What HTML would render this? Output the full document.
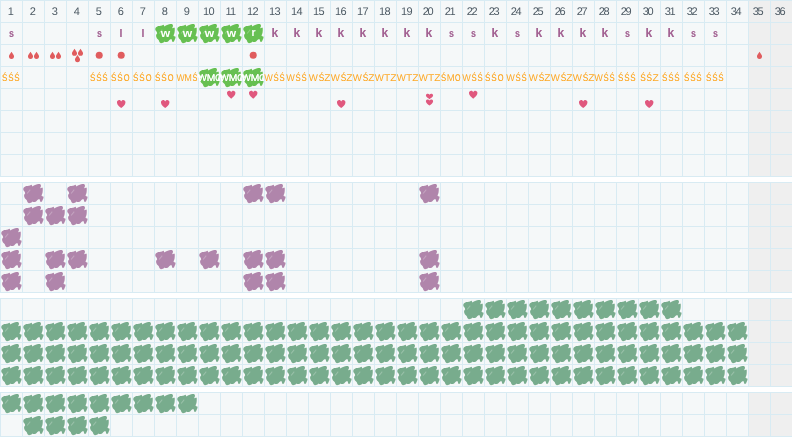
<!DOCTYPE html>
<html lang="pl">
<head>
<meta charset="utf-8">
<title>Karta cyklu</title>
<style>
html,body{margin:0;padding:0;background:#fff}
body{width:792px;height:437px;overflow:hidden;position:relative;font-family:"Liberation Sans",sans-serif}
table{border-collapse:separate;border-spacing:0;table-layout:fixed;width:792px;margin:0 0 5px 0;border-bottom:1px solid #d8ebf3}
td{width:21px;height:21px;padding:0;border-left:1px solid #d8ebf3;border-top:1px solid #d8ebf3;background:#f5f8f9;position:relative;overflow:visible;font-size:0;line-height:0}
td.x{background:#efefef}
.n{position:absolute;left:-2px;top:0;width:21px;height:21px;line-height:20px;text-align:center;font-size:11px;letter-spacing:-.7px;color:#4d5a64;white-space:nowrap;transform:rotate(.03deg)}
.m{position:absolute;left:0;top:0;width:21px;height:21px;line-height:21px;text-align:center;font-size:10.5px;font-weight:bold;color:#a36293;text-shadow:0 0 0 rgba(163,98,147,.35)}
.m.w{color:#fff;text-shadow:none}
.c{position:absolute;left:-10px;top:0;width:41px;height:21px;line-height:21px;text-align:center;font-size:9.8px;color:#fda826;white-space:nowrap;transform-origin:50% 14px}
.c i{display:inline-block;font-style:normal;transform:scaleX(.8);margin:0 -.33px}
.c u{display:inline-block;text-decoration:none;transform:scaleX(.74);margin:0 -.95px}
.c b{display:inline-block;font-weight:normal;transform:scaleX(.94);margin:0 -.27px}
.c i,.c u{text-shadow:0 0 0 rgba(253,168,38,.6)}
.c.w,.c.w u{color:#fff;text-shadow:0 0 0 #fff}
.b{position:absolute;left:-1px;top:-1px;width:22px;height:22px;clip-path:polygon(1.24px 6.9px,1.5px 6px,2.06px 5.36px,3px 4.67px,4.1px 4.1px,5.5px 4.1px,6.9px 3.85px,8px 3.4px,8.8px 2.9px,9.6px 2.75px,10px 3.6px,10.3px 4.5px,11px 4px,12.4px 3.3px,13.75px 2.75px,15.1px 2.3px,16.5px 2.06px,17.9px 2.06px,18.55px 2.6px,19px 3.6px,18.8px 4.7px,18.4px 5.5px,18.1px 6.3px,19.2px 5.9px,20.3px 5.6px,20.75px 6.3px,20.75px 8.2px,20.6px 10.2px,20.3px 11.5px,19.9px 12.4px,19.5px 13.5px,20.1px 14.2px,21.3px 14.4px,21.6px 15.1px,21.3px 16.5px,20.6px 17.9px,20.1px 19.2px,19.2px 19.9px,18.4px 19.8px,18px 19px,17.9px 17.9px,17.6px 17.2px,16.5px 17.2px,15.4px 18px,14.6px 19.1px,13.75px 19.8px,12.4px 20.05px,11.2px 20px,10.5px 19.6px,9.9px 20.2px,9.3px 20.5px,8.2px 20.9px,6.9px 21.2px,5.8px 20.6px,5.2px 19.4px,4.8px 18.3px,3.85px 17.3px,3px 16.5px,2.3px 15.1px,2.06px 13.75px,2.3px 12.4px,3.15px 11.5px,3px 10.4px,2.5px 9.6px,1.8px 8.8px,1.4px 8px)}
.b::after{content:"";position:absolute;left:4.3px;top:8.85px;width:5.4px;height:.7px;background:rgba(255,255,255,.26);transform:rotate(-51deg)}
.p{background:#b085ab}
.g{background:#67c052}
.s{background:#78ac8d}
svg{position:absolute;left:0;top:0;width:21px;height:21px;overflow:visible}
.r{fill:#e05c5e}
.h{fill:#e0587e}
</style>
</head>
<body>
<table><tr><td><span class="n" style="left:-1.2px">1</span></td><td><span class="n" style="left:-1.2px">2</span></td><td><span class="n" style="left:-1.2px">3</span></td><td><span class="n" style="left:-1.2px">4</span></td><td><span class="n" style="left:-1.2px">5</span></td><td><span class="n" style="left:-1.2px">6</span></td><td><span class="n" style="left:-1.2px">7</span></td><td><span class="n" style="left:-1.2px">8</span></td><td><span class="n" style="left:-1.2px">9</span></td><td><span class="n" style="left:-1.4px">10</span></td><td><span class="n" style="left:-1.4px">11</span></td><td><span class="n" style="left:-1.4px">12</span></td><td><span class="n" style="left:-1.4px">13</span></td><td><span class="n" style="left:-1.4px">14</span></td><td><span class="n" style="left:-1.4px">15</span></td><td><span class="n" style="left:-1.4px">16</span></td><td><span class="n" style="left:-1.4px">17</span></td><td><span class="n" style="left:-1.4px">18</span></td><td><span class="n" style="left:-1.4px">19</span></td><td><span class="n" style="left:-2.4px;letter-spacing:-1.4px">20</span></td><td><span class="n" style="left:-2.4px;letter-spacing:-1.4px">21</span></td><td><span class="n" style="left:-2.4px;letter-spacing:-1.4px">22</span></td><td><span class="n" style="left:-2.4px;letter-spacing:-1.4px">23</span></td><td><span class="n" style="left:-2.4px;letter-spacing:-1.4px">24</span></td><td><span class="n" style="left:-2.4px;letter-spacing:-1.4px">25</span></td><td><span class="n" style="left:-2.4px;letter-spacing:-1.4px">26</span></td><td><span class="n" style="left:-2.4px;letter-spacing:-1.4px">27</span></td><td><span class="n" style="left:-2.4px;letter-spacing:-1.4px">28</span></td><td><span class="n" style="left:-2.4px;letter-spacing:-1.4px">29</span></td><td><span class="n" style="left:-2.4px;letter-spacing:-1.4px">30</span></td><td><span class="n" style="left:-2.4px;letter-spacing:-1.4px">31</span></td><td><span class="n" style="left:-2.4px;letter-spacing:-1.4px">32</span></td><td><span class="n" style="left:-2.4px;letter-spacing:-1.4px">33</span></td><td><span class="n" style="left:-2.4px;letter-spacing:-1.4px">34</span></td><td class="x"><span class="n" style="left:-2.4px;letter-spacing:-1.4px">35</span></td><td class="x"><span class="n" style="left:-2.4px;letter-spacing:-1.4px">36</span></td></tr><tr><td><span class="m" style="transform:translate(0.1px,0px) scaleX(0.85)">s</span></td><td></td><td></td><td></td><td><span class="m" style="transform:translate(0.1px,0px) scaleX(0.85)">s</span></td><td><span class="m" style="transform:translate(-0.5px,0px) scaleX(1)">l</span></td><td><span class="m" style="transform:translate(-0.5px,0px) scaleX(1)">l</span></td><td><i class="b g"></i><span class="m w" style="transform:translate(0px,0px) scaleX(1.15)">w</span></td><td><i class="b g"></i><span class="m w" style="transform:translate(0px,0px) scaleX(1.15)">w</span></td><td><i class="b g"></i><span class="m w" style="transform:translate(0px,0px) scaleX(1.15)">w</span></td><td><i class="b g"></i><span class="m w" style="transform:translate(0px,0px) scaleX(1.15)">w</span></td><td><i class="b g"></i><span class="m w" style="transform:translate(0px,-1px) scaleX(1)">r</span></td><td><span class="m" style="transform:translate(-0.6px,0px) scaleX(1);font-size:12px">k</span></td><td><span class="m" style="transform:translate(-0.6px,0px) scaleX(1);font-size:12px">k</span></td><td><span class="m" style="transform:translate(-0.6px,0px) scaleX(1);font-size:12px">k</span></td><td><span class="m" style="transform:translate(-0.6px,0px) scaleX(1);font-size:12px">k</span></td><td><span class="m" style="transform:translate(-0.6px,0px) scaleX(1);font-size:12px">k</span></td><td><span class="m" style="transform:translate(-0.6px,0px) scaleX(1);font-size:12px">k</span></td><td><span class="m" style="transform:translate(-0.6px,0px) scaleX(1);font-size:12px">k</span></td><td><span class="m" style="transform:translate(-0.6px,0px) scaleX(1);font-size:12px">k</span></td><td><span class="m" style="transform:translate(0.1px,0px) scaleX(0.85)">s</span></td><td><span class="m" style="transform:translate(0.1px,0px) scaleX(0.85)">s</span></td><td><span class="m" style="transform:translate(-0.6px,0px) scaleX(1);font-size:12px">k</span></td><td><span class="m" style="transform:translate(0.1px,0px) scaleX(0.85)">s</span></td><td><span class="m" style="transform:translate(-0.6px,0px) scaleX(1);font-size:12px">k</span></td><td><span class="m" style="transform:translate(-0.6px,0px) scaleX(1);font-size:12px">k</span></td><td><span class="m" style="transform:translate(-0.6px,0px) scaleX(1);font-size:12px">k</span></td><td><span class="m" style="transform:translate(-0.6px,0px) scaleX(1);font-size:12px">k</span></td><td><span class="m" style="transform:translate(0.1px,0px) scaleX(0.85)">s</span></td><td><span class="m" style="transform:translate(-0.6px,0px) scaleX(1);font-size:12px">k</span></td><td><span class="m" style="transform:translate(-0.6px,0px) scaleX(1);font-size:12px">k</span></td><td><span class="m" style="transform:translate(0.1px,0px) scaleX(0.85)">s</span></td><td><span class="m" style="transform:translate(0.1px,0px) scaleX(0.85)">s</span></td><td></td><td class="x"></td><td class="x"></td></tr><tr><td><svg viewBox="0 0 21 21"><path class="r" transform="translate(10.5,10.3)" d="M0,-3.6C1.05,-2.05 2.55,-0.3 2.55,1.05A2.55,2.55 0 0 1 -2.55,1.05C-2.55,-0.3 -1.05,-2.05 0,-3.6Z"/></svg></td><td><svg viewBox="0 0 21 21"><path class="r" transform="translate(7.5,10.3)" d="M0,-3.6C1.05,-2.05 2.55,-0.3 2.55,1.05A2.55,2.55 0 0 1 -2.55,1.05C-2.55,-0.3 -1.05,-2.05 0,-3.6Z"/><path class="r" transform="translate(13.5,10.3)" d="M0,-3.6C1.05,-2.05 2.55,-0.3 2.55,1.05A2.55,2.55 0 0 1 -2.55,1.05C-2.55,-0.3 -1.05,-2.05 0,-3.6Z"/></svg></td><td><svg viewBox="0 0 21 21"><path class="r" transform="translate(7.5,10.3)" d="M0,-3.6C1.05,-2.05 2.55,-0.3 2.55,1.05A2.55,2.55 0 0 1 -2.55,1.05C-2.55,-0.3 -1.05,-2.05 0,-3.6Z"/><path class="r" transform="translate(13.5,10.3)" d="M0,-3.6C1.05,-2.05 2.55,-0.3 2.55,1.05A2.55,2.55 0 0 1 -2.55,1.05C-2.55,-0.3 -1.05,-2.05 0,-3.6Z"/></svg></td><td><svg viewBox="0 0 21 21"><path class="r" transform="translate(7.5,7.25)" d="M0,-3.6C1.05,-2.05 2.55,-0.3 2.55,1.05A2.55,2.55 0 0 1 -2.55,1.05C-2.55,-0.3 -1.05,-2.05 0,-3.6Z"/><path class="r" transform="translate(13.5,7.25)" d="M0,-3.6C1.05,-2.05 2.55,-0.3 2.55,1.05A2.55,2.55 0 0 1 -2.55,1.05C-2.55,-0.3 -1.05,-2.05 0,-3.6Z"/><path class="r" transform="translate(10.5,13.55)" d="M0,-3.6C1.05,-2.05 2.55,-0.3 2.55,1.05A2.55,2.55 0 0 1 -2.55,1.05C-2.55,-0.3 -1.05,-2.05 0,-3.6Z"/></svg></td><td><svg viewBox="0 0 21 21"><circle class="r" cx="10.2" cy="10.25" r="3.5"/></svg></td><td><svg viewBox="0 0 21 21"><circle class="r" cx="10.2" cy="10.25" r="3.5"/></svg></td><td></td><td></td><td></td><td></td><td></td><td><svg viewBox="0 0 21 21"><circle class="r" cx="10.2" cy="10.25" r="3.5"/></svg></td><td></td><td></td><td></td><td></td><td></td><td></td><td></td><td></td><td></td><td></td><td></td><td></td><td></td><td></td><td></td><td></td><td></td><td></td><td></td><td></td><td></td><td></td><td class="x"><svg viewBox="0 0 21 21"><path class="r" transform="translate(10.5,10.3)" d="M0,-3.6C1.05,-2.05 2.55,-0.3 2.55,1.05A2.55,2.55 0 0 1 -2.55,1.05C-2.55,-0.3 -1.05,-2.05 0,-3.6Z"/></svg></td><td class="x"></td></tr><tr><td><span class="c" style="transform:translateX(-0.42px) scaleX(1.02) rotate(.03deg)"><i>Ś</i><i>Ś</i><i>Ś</i></span></td><td></td><td></td><td></td><td><span class="c" style="transform:translateX(-0.42px) scaleX(1.02) rotate(.03deg)"><i>Ś</i><i>Ś</i><i>Ś</i></span></td><td><span class="c" style="transform:translateX(-1.32px) scaleX(1.03) rotate(.03deg)"><i>Ś</i><i>Ś</i><u>O</u></span></td><td><span class="c" style="transform:translateX(-1.32px) scaleX(1.03) rotate(.03deg)"><i>Ś</i><i>Ś</i><u>O</u></span></td><td><span class="c" style="transform:translateX(-1.32px) scaleX(1.03) rotate(.03deg)"><i>Ś</i><i>Ś</i><u>O</u></span></td><td><span class="c" style="transform:translateX(-0.63px) scaleX(0.935) rotate(.03deg)"><b>W</b>M<i>Ś</i></span></td><td><i class="b g"></i><span class="c w" style="transform:translateX(0.1px) scaleX(1.05) rotate(.03deg)"><b>W</b>M<u>O</u></span></td><td><i class="b g"></i><span class="c w" style="transform:translateX(0.1px) scaleX(1.05) rotate(.03deg)"><b>W</b>M<u>O</u></span></td><td><i class="b g"></i><span class="c w" style="transform:translateX(0.1px) scaleX(1.05) rotate(.03deg)"><b>W</b>M<u>O</u></span></td><td><span class="c" style="transform:translateX(-1.2px) scaleX(0.985) rotate(.03deg)"><b>W</b><i>Ś</i><i>Ś</i></span></td><td><span class="c" style="transform:translateX(-1.2px) scaleX(0.985) rotate(.03deg)"><b>W</b><i>Ś</i><i>Ś</i></span></td><td><span class="c" style="transform:translateX(0.1px) scaleX(1.05) rotate(.03deg)"><b>W</b><i>Ś</i>Z</span></td><td><span class="c" style="transform:translateX(0.1px) scaleX(1.05) rotate(.03deg)"><b>W</b><i>Ś</i>Z</span></td><td><span class="c" style="transform:translateX(0.1px) scaleX(1.05) rotate(.03deg)"><b>W</b><i>Ś</i>Z</span></td><td><span class="c" style="transform:translateX(0.1px) scaleX(1.05) rotate(.03deg)"><b>W</b>TZ</span></td><td><span class="c" style="transform:translateX(0.1px) scaleX(1.05) rotate(.03deg)"><b>W</b>TZ</span></td><td><span class="c" style="transform:translateX(0.1px) scaleX(1.05) rotate(.03deg)"><b>W</b>TZ</span></td><td><span class="c" style="transform:translateX(-0.87px) scaleX(0.975) rotate(.03deg)"><i>Ś</i>M<u>O</u></span></td><td><span class="c" style="transform:translateX(-1.2px) scaleX(0.985) rotate(.03deg)"><b>W</b><i>Ś</i><i>Ś</i></span></td><td><span class="c" style="transform:translateX(-1.32px) scaleX(1.03) rotate(.03deg)"><i>Ś</i><i>Ś</i><u>O</u></span></td><td><span class="c" style="transform:translateX(-1.2px) scaleX(0.985) rotate(.03deg)"><b>W</b><i>Ś</i><i>Ś</i></span></td><td><span class="c" style="transform:translateX(0.1px) scaleX(1.05) rotate(.03deg)"><b>W</b><i>Ś</i>Z</span></td><td><span class="c" style="transform:translateX(0.1px) scaleX(1.05) rotate(.03deg)"><b>W</b><i>Ś</i>Z</span></td><td><span class="c" style="transform:translateX(0.1px) scaleX(1.05) rotate(.03deg)"><b>W</b><i>Ś</i>Z</span></td><td><span class="c" style="transform:translateX(-1.2px) scaleX(0.985) rotate(.03deg)"><b>W</b><i>Ś</i><i>Ś</i></span></td><td><span class="c" style="transform:translateX(-0.42px) scaleX(1.02) rotate(.03deg)"><i>Ś</i><i>Ś</i><i>Ś</i></span></td><td><span class="c" style="transform:translateX(-0.07px) scaleX(1.05) rotate(.03deg)"><i>Ś</i><i>Ś</i>Z</span></td><td><span class="c" style="transform:translateX(-0.42px) scaleX(1.02) rotate(.03deg)"><i>Ś</i><i>Ś</i><i>Ś</i></span></td><td><span class="c" style="transform:translateX(-0.42px) scaleX(1.02) rotate(.03deg)"><i>Ś</i><i>Ś</i><i>Ś</i></span></td><td><span class="c" style="transform:translateX(-0.42px) scaleX(1.02) rotate(.03deg)"><i>Ś</i><i>Ś</i><i>Ś</i></span></td><td></td><td class="x"></td><td class="x"></td></tr><tr><td></td><td></td><td></td><td></td><td></td><td><svg viewBox="0 0 21 21"><path class="h" transform="translate(10.2,15)" d="M0,4C-1.6,2.6 -4.25,0.7 -4.25,-1.6C-4.25,-3 -3.2,-3.9 -2.05,-3.9C-1.1,-3.9 -0.4,-3.3 0,-2.5C0.4,-3.3 1.1,-3.9 2.05,-3.9C3.2,-3.9 4.25,-3 4.25,-1.6C4.25,0.7 1.6,2.6 0,4Z"/></svg></td><td></td><td><svg viewBox="0 0 21 21"><path class="h" transform="translate(10.2,15)" d="M0,4C-1.6,2.6 -4.25,0.7 -4.25,-1.6C-4.25,-3 -3.2,-3.9 -2.05,-3.9C-1.1,-3.9 -0.4,-3.3 0,-2.5C0.4,-3.3 1.1,-3.9 2.05,-3.9C3.2,-3.9 4.25,-3 4.25,-1.6C4.25,0.7 1.6,2.6 0,4Z"/></svg></td><td></td><td></td><td><svg viewBox="0 0 21 21"><path class="h" transform="translate(10.2,5.7)" d="M0,4C-1.6,2.6 -4.25,0.7 -4.25,-1.6C-4.25,-3 -3.2,-3.9 -2.05,-3.9C-1.1,-3.9 -0.4,-3.3 0,-2.5C0.4,-3.3 1.1,-3.9 2.05,-3.9C3.2,-3.9 4.25,-3 4.25,-1.6C4.25,0.7 1.6,2.6 0,4Z"/></svg></td><td><svg viewBox="0 0 21 21"><path class="h" transform="translate(10.2,5.7)" d="M0,4C-1.6,2.6 -4.25,0.7 -4.25,-1.6C-4.25,-3 -3.2,-3.9 -2.05,-3.9C-1.1,-3.9 -0.4,-3.3 0,-2.5C0.4,-3.3 1.1,-3.9 2.05,-3.9C3.2,-3.9 4.25,-3 4.25,-1.6C4.25,0.7 1.6,2.6 0,4Z"/></svg></td><td></td><td></td><td></td><td><svg viewBox="0 0 21 21"><path class="h" transform="translate(10.2,15)" d="M0,4C-1.6,2.6 -4.25,0.7 -4.25,-1.6C-4.25,-3 -3.2,-3.9 -2.05,-3.9C-1.1,-3.9 -0.4,-3.3 0,-2.5C0.4,-3.3 1.1,-3.9 2.05,-3.9C3.2,-3.9 4.25,-3 4.25,-1.6C4.25,0.7 1.6,2.6 0,4Z"/></svg></td><td></td><td></td><td></td><td><svg viewBox="0 0 21 21"><path class="h" transform="translate(10.5,7.4) scale(0.85,0.7)" d="M0,4C-1.6,2.6 -4.25,0.7 -4.25,-1.6C-4.25,-3 -3.2,-3.9 -2.05,-3.9C-1.1,-3.9 -0.4,-3.3 0,-2.5C0.4,-3.3 1.1,-3.9 2.05,-3.9C3.2,-3.9 4.25,-3 4.25,-1.6C4.25,0.7 1.6,2.6 0,4Z"/><path class="h" transform="translate(10.5,13.5) scale(0.85,0.76)" d="M0,4C-1.6,2.6 -4.25,0.7 -4.25,-1.6C-4.25,-3 -3.2,-3.9 -2.05,-3.9C-1.1,-3.9 -0.4,-3.3 0,-2.5C0.4,-3.3 1.1,-3.9 2.05,-3.9C3.2,-3.9 4.25,-3 4.25,-1.6C4.25,0.7 1.6,2.6 0,4Z"/></svg></td><td></td><td><svg viewBox="0 0 21 21"><path class="h" transform="translate(10.2,5.7)" d="M0,4C-1.6,2.6 -4.25,0.7 -4.25,-1.6C-4.25,-3 -3.2,-3.9 -2.05,-3.9C-1.1,-3.9 -0.4,-3.3 0,-2.5C0.4,-3.3 1.1,-3.9 2.05,-3.9C3.2,-3.9 4.25,-3 4.25,-1.6C4.25,0.7 1.6,2.6 0,4Z"/></svg></td><td></td><td></td><td></td><td></td><td><svg viewBox="0 0 21 21"><path class="h" transform="translate(10.2,15)" d="M0,4C-1.6,2.6 -4.25,0.7 -4.25,-1.6C-4.25,-3 -3.2,-3.9 -2.05,-3.9C-1.1,-3.9 -0.4,-3.3 0,-2.5C0.4,-3.3 1.1,-3.9 2.05,-3.9C3.2,-3.9 4.25,-3 4.25,-1.6C4.25,0.7 1.6,2.6 0,4Z"/></svg></td><td></td><td></td><td><svg viewBox="0 0 21 21"><path class="h" transform="translate(10.2,15)" d="M0,4C-1.6,2.6 -4.25,0.7 -4.25,-1.6C-4.25,-3 -3.2,-3.9 -2.05,-3.9C-1.1,-3.9 -0.4,-3.3 0,-2.5C0.4,-3.3 1.1,-3.9 2.05,-3.9C3.2,-3.9 4.25,-3 4.25,-1.6C4.25,0.7 1.6,2.6 0,4Z"/></svg></td><td></td><td></td><td></td><td></td><td class="x"></td><td class="x"></td></tr><tr><td></td><td></td><td></td><td></td><td></td><td></td><td></td><td></td><td></td><td></td><td></td><td></td><td></td><td></td><td></td><td></td><td></td><td></td><td></td><td></td><td></td><td></td><td></td><td></td><td></td><td></td><td></td><td></td><td></td><td></td><td></td><td></td><td></td><td></td><td class="x"></td><td class="x"></td></tr><tr><td></td><td></td><td></td><td></td><td></td><td></td><td></td><td></td><td></td><td></td><td></td><td></td><td></td><td></td><td></td><td></td><td></td><td></td><td></td><td></td><td></td><td></td><td></td><td></td><td></td><td></td><td></td><td></td><td></td><td></td><td></td><td></td><td></td><td></td><td class="x"></td><td class="x"></td></tr><tr><td></td><td></td><td></td><td></td><td></td><td></td><td></td><td></td><td></td><td></td><td></td><td></td><td></td><td></td><td></td><td></td><td></td><td></td><td></td><td></td><td></td><td></td><td></td><td></td><td></td><td></td><td></td><td></td><td></td><td></td><td></td><td></td><td></td><td></td><td class="x"></td><td class="x"></td></tr></table>
<table><tr><td></td><td><i class="b p"></i></td><td></td><td><i class="b p"></i></td><td></td><td></td><td></td><td></td><td></td><td></td><td></td><td><i class="b p"></i></td><td><i class="b p"></i></td><td></td><td></td><td></td><td></td><td></td><td></td><td><i class="b p"></i></td><td></td><td></td><td></td><td></td><td></td><td></td><td></td><td></td><td></td><td></td><td></td><td></td><td></td><td></td><td class="x"></td><td class="x"></td></tr><tr><td></td><td><i class="b p"></i></td><td><i class="b p"></i></td><td><i class="b p"></i></td><td></td><td></td><td></td><td></td><td></td><td></td><td></td><td></td><td></td><td></td><td></td><td></td><td></td><td></td><td></td><td></td><td></td><td></td><td></td><td></td><td></td><td></td><td></td><td></td><td></td><td></td><td></td><td></td><td></td><td></td><td class="x"></td><td class="x"></td></tr><tr><td><i class="b p"></i></td><td></td><td></td><td></td><td></td><td></td><td></td><td></td><td></td><td></td><td></td><td></td><td></td><td></td><td></td><td></td><td></td><td></td><td></td><td></td><td></td><td></td><td></td><td></td><td></td><td></td><td></td><td></td><td></td><td></td><td></td><td></td><td></td><td></td><td class="x"></td><td class="x"></td></tr><tr><td><i class="b p"></i></td><td></td><td><i class="b p"></i></td><td><i class="b p"></i></td><td></td><td></td><td></td><td><i class="b p"></i></td><td></td><td><i class="b p"></i></td><td></td><td><i class="b p"></i></td><td><i class="b p"></i></td><td></td><td></td><td></td><td></td><td></td><td></td><td><i class="b p"></i></td><td></td><td></td><td></td><td></td><td></td><td></td><td></td><td></td><td></td><td></td><td></td><td></td><td></td><td></td><td class="x"></td><td class="x"></td></tr><tr><td><i class="b p"></i></td><td></td><td><i class="b p"></i></td><td></td><td></td><td></td><td></td><td></td><td></td><td></td><td></td><td><i class="b p"></i></td><td><i class="b p"></i></td><td></td><td></td><td></td><td></td><td></td><td></td><td><i class="b p"></i></td><td></td><td></td><td></td><td></td><td></td><td></td><td></td><td></td><td></td><td></td><td></td><td></td><td></td><td></td><td class="x"></td><td class="x"></td></tr></table>
<table><tr><td></td><td></td><td></td><td></td><td></td><td></td><td></td><td></td><td></td><td></td><td></td><td></td><td></td><td></td><td></td><td></td><td></td><td></td><td></td><td></td><td></td><td><i class="b s"></i></td><td><i class="b s"></i></td><td><i class="b s"></i></td><td><i class="b s"></i></td><td><i class="b s"></i></td><td><i class="b s"></i></td><td><i class="b s"></i></td><td><i class="b s"></i></td><td><i class="b s"></i></td><td><i class="b s"></i></td><td></td><td></td><td></td><td class="x"></td><td class="x"></td></tr><tr><td><i class="b s"></i></td><td><i class="b s"></i></td><td><i class="b s"></i></td><td><i class="b s"></i></td><td><i class="b s"></i></td><td><i class="b s"></i></td><td><i class="b s"></i></td><td><i class="b s"></i></td><td><i class="b s"></i></td><td><i class="b s"></i></td><td><i class="b s"></i></td><td><i class="b s"></i></td><td><i class="b s"></i></td><td><i class="b s"></i></td><td><i class="b s"></i></td><td><i class="b s"></i></td><td><i class="b s"></i></td><td><i class="b s"></i></td><td><i class="b s"></i></td><td><i class="b s"></i></td><td><i class="b s"></i></td><td><i class="b s"></i></td><td><i class="b s"></i></td><td><i class="b s"></i></td><td><i class="b s"></i></td><td><i class="b s"></i></td><td><i class="b s"></i></td><td><i class="b s"></i></td><td><i class="b s"></i></td><td><i class="b s"></i></td><td><i class="b s"></i></td><td><i class="b s"></i></td><td><i class="b s"></i></td><td><i class="b s"></i></td><td class="x"></td><td class="x"></td></tr><tr><td><i class="b s"></i></td><td><i class="b s"></i></td><td><i class="b s"></i></td><td><i class="b s"></i></td><td><i class="b s"></i></td><td><i class="b s"></i></td><td><i class="b s"></i></td><td><i class="b s"></i></td><td><i class="b s"></i></td><td><i class="b s"></i></td><td><i class="b s"></i></td><td><i class="b s"></i></td><td><i class="b s"></i></td><td><i class="b s"></i></td><td><i class="b s"></i></td><td><i class="b s"></i></td><td><i class="b s"></i></td><td><i class="b s"></i></td><td><i class="b s"></i></td><td><i class="b s"></i></td><td><i class="b s"></i></td><td><i class="b s"></i></td><td><i class="b s"></i></td><td><i class="b s"></i></td><td><i class="b s"></i></td><td><i class="b s"></i></td><td><i class="b s"></i></td><td><i class="b s"></i></td><td><i class="b s"></i></td><td><i class="b s"></i></td><td><i class="b s"></i></td><td><i class="b s"></i></td><td><i class="b s"></i></td><td><i class="b s"></i></td><td class="x"></td><td class="x"></td></tr><tr><td><i class="b s"></i></td><td><i class="b s"></i></td><td><i class="b s"></i></td><td><i class="b s"></i></td><td><i class="b s"></i></td><td><i class="b s"></i></td><td><i class="b s"></i></td><td><i class="b s"></i></td><td><i class="b s"></i></td><td><i class="b s"></i></td><td><i class="b s"></i></td><td><i class="b s"></i></td><td><i class="b s"></i></td><td><i class="b s"></i></td><td><i class="b s"></i></td><td><i class="b s"></i></td><td><i class="b s"></i></td><td><i class="b s"></i></td><td><i class="b s"></i></td><td><i class="b s"></i></td><td><i class="b s"></i></td><td><i class="b s"></i></td><td><i class="b s"></i></td><td><i class="b s"></i></td><td><i class="b s"></i></td><td><i class="b s"></i></td><td><i class="b s"></i></td><td><i class="b s"></i></td><td><i class="b s"></i></td><td><i class="b s"></i></td><td><i class="b s"></i></td><td><i class="b s"></i></td><td><i class="b s"></i></td><td><i class="b s"></i></td><td class="x"></td><td class="x"></td></tr></table>
<table><tr><td><i class="b s"></i></td><td><i class="b s"></i></td><td><i class="b s"></i></td><td><i class="b s"></i></td><td><i class="b s"></i></td><td><i class="b s"></i></td><td><i class="b s"></i></td><td><i class="b s"></i></td><td><i class="b s"></i></td><td></td><td></td><td></td><td></td><td></td><td></td><td></td><td></td><td></td><td></td><td></td><td></td><td></td><td></td><td></td><td></td><td></td><td></td><td></td><td></td><td></td><td></td><td></td><td></td><td></td><td class="x"></td><td class="x"></td></tr><tr><td></td><td><i class="b s"></i></td><td><i class="b s"></i></td><td><i class="b s"></i></td><td><i class="b s"></i></td><td></td><td></td><td></td><td></td><td></td><td></td><td></td><td></td><td></td><td></td><td></td><td></td><td></td><td></td><td></td><td></td><td></td><td></td><td></td><td></td><td></td><td></td><td></td><td></td><td></td><td></td><td></td><td></td><td></td><td class="x"></td><td class="x"></td></tr></table>
</body>
</html>
